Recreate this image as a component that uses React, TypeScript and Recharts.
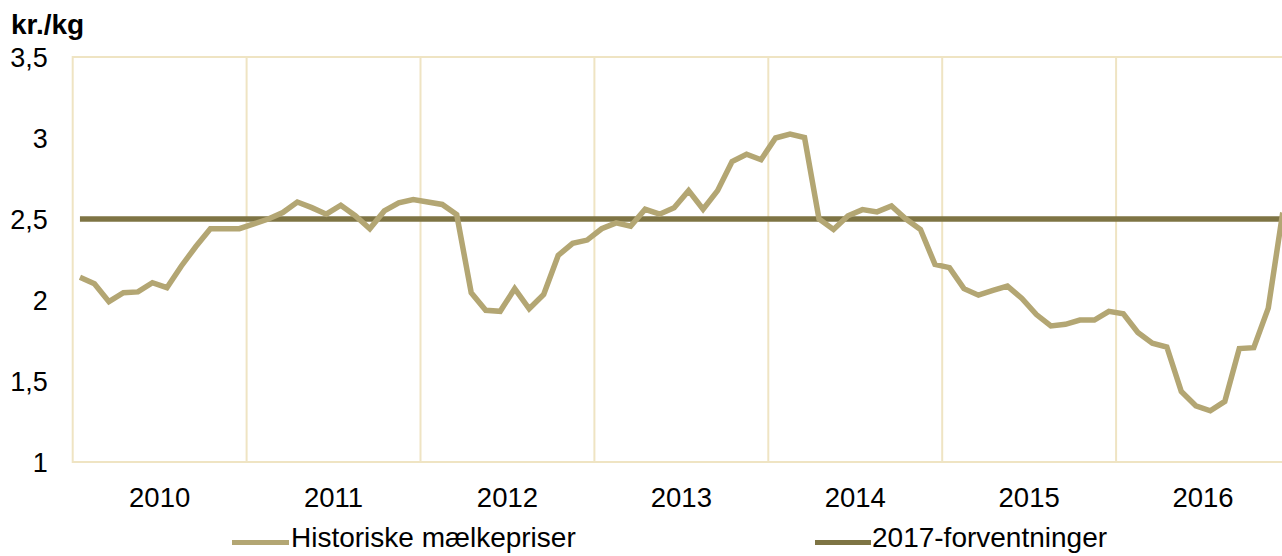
import React from "react"
import { LineChart, Line, XAxis, YAxis, ReferenceLine, ReferenceArea } from "recharts"

// monthly milk prices, kr./kg, Jan 2010 - Dec 2016
const years = [2010, 2011, 2012, 2013, 2014, 2015, 2016]

const historic = [
  2.14, 2.10, 1.99, 2.045, 2.05, 2.107, 2.076, 2.21, 2.33, 2.44, 2.44, 2.44,
  2.47, 2.50, 2.54, 2.605, 2.57, 2.53, 2.585, 2.52, 2.44, 2.55, 2.60, 2.62,
  2.605, 2.59, 2.527, 2.045, 1.936, 1.93, 2.07, 1.946, 2.034, 2.275, 2.35, 2.37,
  2.44, 2.476, 2.455, 2.56, 2.53, 2.57, 2.675, 2.56, 2.675, 2.855, 2.90, 2.866,
  3.0, 3.024, 3.003, 2.5, 2.435, 2.52, 2.558, 2.544, 2.58, 2.50, 2.435, 2.22,
  2.20, 2.07, 2.03, 2.06, 2.086, 2.01, 1.91, 1.84, 1.85, 1.876, 1.876, 1.93,
  1.915, 1.80, 1.733, 1.71, 1.435, 1.347, 1.316, 1.374, 1.70, 1.706, 1.95, 2.54,
]

const forecast = [
  2.5, 2.5, 2.5, 2.5, 2.5, 2.5, 2.5, 2.5, 2.5, 2.5, 2.5, 2.5,
  2.5, 2.5, 2.5, 2.5, 2.5, 2.5, 2.5, 2.5, 2.5, 2.5, 2.5, 2.5,
  2.5, 2.5, 2.5, 2.5, 2.5, 2.5, 2.5, 2.5, 2.5, 2.5, 2.5, 2.5,
  2.5, 2.5, 2.5, 2.5, 2.5, 2.5, 2.5, 2.5, 2.5, 2.5, 2.5, 2.5,
  2.5, 2.5, 2.5, 2.5, 2.5, 2.5, 2.5, 2.5, 2.5, 2.5, 2.5, 2.5,
  2.5, 2.5, 2.5, 2.5, 2.5, 2.5, 2.5, 2.5, 2.5, 2.5, 2.5, 2.5,
  2.5, 2.5, 2.5, 2.5, 2.5, 2.5, 2.5, 2.5, 2.5, 2.5, 2.5, 2.5,
]

const yTicks = [1, 1.5, 2, 2.5, 3, 3.5]

const HIST = "#b3a673"
const FORE = "#7e7444"
const GRID = "#efe4c3"
const FONT = "'Liberation Sans', Arial, sans-serif"

// each month sits in the middle of its slot on a 0..84 month scale
const data = historic.map((h, i) => ({ m: i + 0.5, h, f: forecast[i] }))
const yearMid = years.map((_, i) => i * 12 + 6)
const yearEdges = years.slice(1).map((_, i) => (i + 1) * 12)

export default function App() {
  return (
    <div
      style={{
        position: "absolute",
        left: 0,
        top: 0,
        width: 1282,
        height: 556,
        overflow: "hidden",
        background: "#fff",
        fontFamily: FONT,
      }}
    >
      <div
        style={{
          position: "absolute",
          left: 11,
          top: 11,
          fontSize: 28,
          lineHeight: "28px",
          fontWeight: "bold",
          color: "#000",
        }}
      >
        kr./kg
      </div>

      <LineChart
        width={1292}
        height={556}
        data={data}
        margin={{ top: 57, right: 2, left: 0, bottom: 0 }}
      >
        <ReferenceArea x1={0} x2={84} y1={1} y2={3.5} fill="none" stroke={GRID} strokeWidth={2} />
        {yearEdges.map((x) => (
          <ReferenceLine key={x} x={x} stroke={GRID} strokeWidth={2} />
        ))}
        <XAxis
          type="number"
          dataKey="m"
          domain={[0, 84]}
          ticks={yearMid}
          tickFormatter={(v) => String(years[Math.floor(v / 12)])}
          axisLine={false}
          tickLine={false}
          tickSize={0}
          tickMargin={25}
          height={94}
          tick={{ fill: "#000", fontSize: 27.5, fontFamily: FONT }}
        />
        <YAxis
          domain={[1, 3.5]}
          ticks={yTicks}
          tickFormatter={(v) => String(v).replace(".", ",")}
          axisLine={false}
          tickLine={false}
          tickSize={0}
          tickMargin={25}
          width={72.7}
          tick={{ fill: "#000", fontSize: 27, fontFamily: FONT }}
        />
        <Line
          dataKey="f"
          stroke={FORE}
          strokeWidth={5.5}
          dot={false}
          isAnimationActive={false}
        />
        <Line
          dataKey="h"
          stroke={HIST}
          strokeWidth={5.5}
          dot={false}
          strokeLinejoin="miter"
          isAnimationActive={false}
        />
      </LineChart>

      <div style={{ position: "absolute", left: 232, top: 540, width: 57, height: 5, background: HIST }} />
      <div style={{ position: "absolute", left: 291, top: 524, fontSize: 28, lineHeight: "28px", color: "#000", whiteSpace: "nowrap" }}>
        Historiske mælkepriser
      </div>
      <div style={{ position: "absolute", left: 815, top: 540, width: 56, height: 5, background: FORE }} />
      <div style={{ position: "absolute", left: 872, top: 524, fontSize: 28, lineHeight: "28px", color: "#000", whiteSpace: "nowrap" }}>
        2017-forventninger
      </div>
    </div>
  )
}
